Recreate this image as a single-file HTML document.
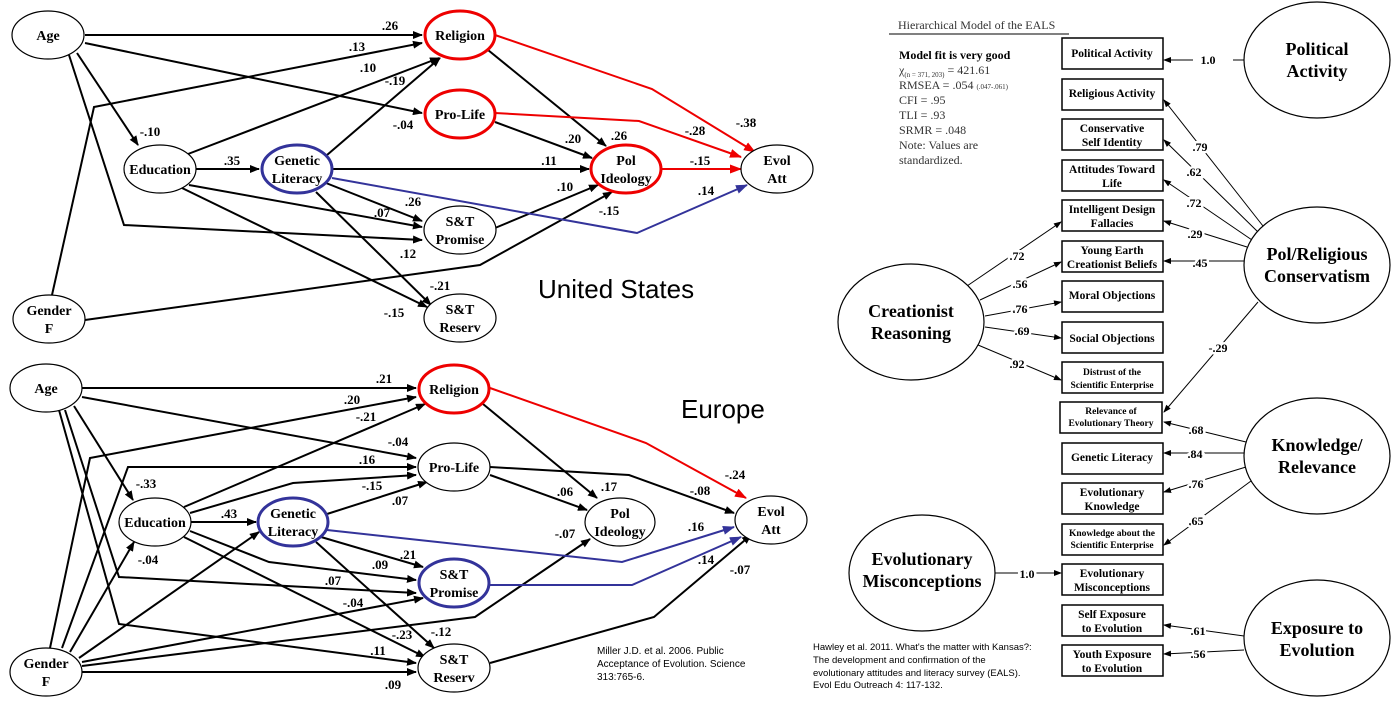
<!DOCTYPE html>
<html><head><meta charset="utf-8"><style>
html,body{margin:0;padding:0;background:#fff;}
svg{display:block;}
.n{font-family:"Liberation Serif",serif;font-weight:bold;font-size:14px;text-anchor:middle;}
.l{font-family:"Liberation Serif",serif;font-weight:bold;font-size:13px;text-anchor:middle;}
.b{font-family:"Liberation Serif",serif;font-weight:bold;font-size:11.5px;text-anchor:middle;}
.bs{font-family:"Liberation Serif",serif;font-weight:bold;font-size:9.5px;text-anchor:middle;}
.e{font-family:"Liberation Serif",serif;font-weight:bold;font-size:18px;text-anchor:middle;}
.rl{font-family:"Liberation Serif",serif;font-weight:bold;font-size:12px;text-anchor:middle;paint-order:stroke;stroke:#fff;stroke-width:5px;}
.k{stroke:#000;stroke-width:2;fill:none;}
.r{stroke:#e00;stroke-width:2;fill:none;}
.u{stroke:#33339a;stroke-width:2;fill:none;}
.t{stroke:#000;stroke-width:1;fill:none;}
</style></head><body>
<svg width="1394" height="701" viewBox="0 0 1394 701" xmlns="http://www.w3.org/2000/svg">
<defs>
<marker id="ak" markerWidth="10" markerHeight="8" refX="9" refY="4" orient="auto" markerUnits="userSpaceOnUse"><path d="M0,0 L10,4 L0,8 z" fill="#000"/></marker>
<marker id="ar" markerWidth="12" markerHeight="9" refX="11" refY="4.5" orient="auto" markerUnits="userSpaceOnUse"><path d="M0,0 L12,4.5 L0,9 z" fill="#e00"/></marker>
<marker id="au" markerWidth="12" markerHeight="9" refX="11" refY="4.5" orient="auto" markerUnits="userSpaceOnUse"><path d="M0,0 L12,4.5 L0,9 z" fill="#33339a"/></marker>
<marker id="as" markerWidth="8" markerHeight="6" refX="7" refY="3" orient="auto" markerUnits="userSpaceOnUse"><path d="M0,0 L8,3 L0,6 z" fill="#000"/></marker>
</defs>

<!-- ===== US ===== -->
<g>
<polyline class="k" points="85,35 422,35" marker-end="url(#ak)"/>
<polyline class="k" points="52,295 94,107 422,43" marker-end="url(#ak)"/>
<polyline class="k" points="85,43 422,113" marker-end="url(#ak)"/>
<polyline class="k" points="77,53 138,145" marker-end="url(#ak)"/>
<polyline class="k" points="69,55 124,225 422,240" marker-end="url(#ak)"/>
<polyline class="k" points="188,154 439,58" marker-end="url(#ak)"/>
<polyline class="k" points="195,169 259,169" marker-end="url(#ak)"/>
<polyline class="k" points="189,185 422,227" marker-end="url(#ak)"/>
<polyline class="k" points="182,188 427,307" marker-end="url(#ak)"/>
<polyline class="k" points="327,155 440,58" marker-end="url(#ak)"/>
<polyline class="k" points="332,169 589,169" marker-end="url(#ak)"/>
<polyline class="k" points="326,183 422,221" marker-end="url(#ak)"/>
<polyline class="k" points="316,192 431,305" marker-end="url(#ak)"/>
<polyline class="k" points="488,50 606,146" marker-end="url(#ak)"/>
<polyline class="k" points="495,122 592,158" marker-end="url(#ak)"/>
<polyline class="k" points="495,228 598,185" marker-end="url(#ak)"/>
<polyline class="k" points="85,320 480,265 612,192" marker-end="url(#ak)"/>
<polyline class="u" points="332,178 637,233 747,185" marker-end="url(#au)"/>
<polyline class="r" points="495,35 652,89 755,152" marker-end="url(#ar)"/>
<polyline class="r" points="495,113 639,121 741,157" marker-end="url(#ar)"/>
<polyline class="r" points="662,169 741,169" marker-end="url(#ar)"/>

<ellipse cx="48" cy="35" rx="36" ry="24" fill="#fff" stroke="#000" stroke-width="1.2"/>
<text class="n" x="48" y="40">Age</text>
<ellipse cx="49" cy="319" rx="36" ry="24" fill="#fff" stroke="#000" stroke-width="1.2"/>
<text class="n" x="49" y="315">Gender</text><text class="n" x="49" y="333">F</text>
<ellipse cx="160" cy="169" rx="36" ry="24" fill="#fff" stroke="#000" stroke-width="1.2"/>
<text class="n" x="160" y="174">Education</text>
<ellipse cx="297" cy="169" rx="35" ry="24" fill="#fff" stroke="#33339a" stroke-width="3"/>
<text class="n" x="297" y="165">Genetic</text><text class="n" x="297" y="183">Literacy</text>
<ellipse cx="460" cy="35" rx="35" ry="24" fill="#fff" stroke="#e00" stroke-width="3"/>
<text class="n" x="460" y="40">Religion</text>
<ellipse cx="460" cy="114" rx="35" ry="24" fill="#fff" stroke="#e00" stroke-width="3"/>
<text class="n" x="460" y="119">Pro-Life</text>
<ellipse cx="460" cy="230" rx="36" ry="24" fill="#fff" stroke="#000" stroke-width="1.2"/>
<text class="n" x="460" y="226">S&amp;T</text><text class="n" x="460" y="244">Promise</text>
<ellipse cx="460" cy="318" rx="36" ry="24" fill="#fff" stroke="#000" stroke-width="1.2"/>
<text class="n" x="460" y="314">S&amp;T</text><text class="n" x="460" y="332">Reserv</text>
<ellipse cx="626" cy="169" rx="35" ry="24" fill="#fff" stroke="#e00" stroke-width="3"/>
<text class="n" x="626" y="165">Pol</text><text class="n" x="626" y="183">Ideology</text>
<ellipse cx="777" cy="169" rx="36" ry="24" fill="#fff" stroke="#000" stroke-width="1.2"/>
<text class="n" x="777" y="165">Evol</text><text class="n" x="777" y="183">Att</text>

<text class="l" x="390" y="30">.26</text>
<text class="l" x="357" y="51">.13</text>
<text class="l" x="368" y="72">.10</text>
<text class="l" x="395" y="85">-.19</text>
<text class="l" x="403" y="129">-.04</text>
<text class="l" x="150" y="136">-.10</text>
<text class="l" x="232" y="165">.35</text>
<text class="l" x="382" y="217">.07</text>
<text class="l" x="413" y="206">.26</text>
<text class="l" x="408" y="258">.12</text>
<text class="l" x="440" y="290">-.21</text>
<text class="l" x="394" y="317">-.15</text>
<text class="l" x="573" y="143">.20</text>
<text class="l" x="619" y="140">.26</text>
<text class="l" x="549" y="165">.11</text>
<text class="l" x="565" y="191">.10</text>
<text class="l" x="609" y="215">-.15</text>
<text class="l" x="706" y="195">.14</text>
<text class="l" x="700" y="165">-.15</text>
<text class="l" x="695" y="135">-.28</text>
<text class="l" x="746" y="127">-.38</text>
<text x="538" y="298" style="font-family:'Liberation Sans',sans-serif;font-size:26px;">United States</text>
</g>

<!-- ===== Europe ===== -->
<g>
<polyline class="k" points="82,388 416,388" marker-end="url(#ak)"/>
<polyline class="k" points="50,648 90,458 416,397" marker-end="url(#ak)"/>
<polyline class="k" points="82,397 416,458" marker-end="url(#ak)"/>
<polyline class="k" points="74,406 133,500" marker-end="url(#ak)"/>
<polyline class="k" points="65,410 119,577 416,593" marker-end="url(#ak)"/>
<polyline class="k" points="59,410 119,624 416,663" marker-end="url(#ak)"/>
<polyline class="k" points="62,648 128,467 416,467" marker-end="url(#ak)"/>
<polyline class="k" points="70,652 134,542" marker-end="url(#ak)"/>
<polyline class="k" points="79,658 259,532" marker-end="url(#ak)"/>
<polyline class="k" points="82,662 423,598" marker-end="url(#ak)"/>
<polyline class="k" points="82,666 475,617 590,539" marker-end="url(#ak)"/>
<polyline class="k" points="82,672 416,672" marker-end="url(#ak)"/>
<polyline class="k" points="184,507 425,404" marker-end="url(#ak)"/>
<polyline class="k" points="190,513 293,483 416,475" marker-end="url(#ak)"/>
<polyline class="k" points="190,522 256,522" marker-end="url(#ak)"/>
<polyline class="k" points="190,531 269,562 416,580" marker-end="url(#ak)"/>
<polyline class="k" points="184,537 425,657" marker-end="url(#ak)"/>
<polyline class="k" points="327,514 427,482" marker-end="url(#ak)"/>
<polyline class="k" points="321,537 423,567" marker-end="url(#ak)"/>
<polyline class="k" points="316,542 434,648" marker-end="url(#ak)"/>
<polyline class="k" points="483,404 597,498" marker-end="url(#ak)"/>
<polyline class="k" points="490,475 587,510" marker-end="url(#ak)"/>
<polyline class="k" points="490,467 629,475 734,513" marker-end="url(#ak)"/>
<polyline class="k" points="490,663 654,617 751,535" marker-end="url(#ak)"/>
<polyline class="u" points="327,530 622,562 734,527" marker-end="url(#au)"/>
<polyline class="u" points="490,585 632,585 741,537" marker-end="url(#au)"/>
<polyline class="r" points="490,388 646,443 746,498" marker-end="url(#ar)"/>

<ellipse cx="46" cy="388" rx="36" ry="24" fill="#fff" stroke="#000" stroke-width="1.2"/>
<text class="n" x="46" y="393">Age</text>
<ellipse cx="46" cy="672" rx="36" ry="24" fill="#fff" stroke="#000" stroke-width="1.2"/>
<text class="n" x="46" y="668">Gender</text><text class="n" x="46" y="686">F</text>
<ellipse cx="155" cy="522" rx="36" ry="24" fill="#fff" stroke="#000" stroke-width="1.2"/>
<text class="n" x="155" y="527">Education</text>
<ellipse cx="293" cy="522" rx="35" ry="24" fill="#fff" stroke="#33339a" stroke-width="3"/>
<text class="n" x="293" y="518">Genetic</text><text class="n" x="293" y="536">Literacy</text>
<ellipse cx="454" cy="389" rx="35" ry="24" fill="#fff" stroke="#e00" stroke-width="3"/>
<text class="n" x="454" y="394">Religion</text>
<ellipse cx="454" cy="467" rx="36" ry="24" fill="#fff" stroke="#000" stroke-width="1.2"/>
<text class="n" x="454" y="472">Pro-Life</text>
<ellipse cx="454" cy="583" rx="35" ry="24" fill="#fff" stroke="#33339a" stroke-width="3"/>
<text class="n" x="454" y="579">S&amp;T</text><text class="n" x="454" y="597">Promise</text>
<ellipse cx="454" cy="668" rx="36" ry="24" fill="#fff" stroke="#000" stroke-width="1.2"/>
<text class="n" x="454" y="664">S&amp;T</text><text class="n" x="454" y="682">Reserv</text>
<ellipse cx="620" cy="522" rx="35" ry="24" fill="#fff" stroke="#000" stroke-width="1.2"/>
<text class="n" x="620" y="518">Pol</text><text class="n" x="620" y="536">Ideology</text>
<ellipse cx="771" cy="520" rx="36" ry="24" fill="#fff" stroke="#000" stroke-width="1.2"/>
<text class="n" x="771" y="516">Evol</text><text class="n" x="771" y="534">Att</text>

<text class="l" x="384" y="383">.21</text>
<text class="l" x="352" y="404">.20</text>
<text class="l" x="366" y="421">-.21</text>
<text class="l" x="398" y="446">-.04</text>
<text class="l" x="367" y="464">.16</text>
<text class="l" x="372" y="490">-.15</text>
<text class="l" x="400" y="505">.07</text>
<text class="l" x="146" y="488">-.33</text>
<text class="l" x="229" y="518">.43</text>
<text class="l" x="148" y="564">-.04</text>
<text class="l" x="408" y="559">.21</text>
<text class="l" x="380" y="569">.09</text>
<text class="l" x="333" y="585">.07</text>
<text class="l" x="353" y="607">-.04</text>
<text class="l" x="402" y="639">-.23</text>
<text class="l" x="441" y="636">-.12</text>
<text class="l" x="378" y="655">.11</text>
<text class="l" x="393" y="689">.09</text>
<text class="l" x="565" y="496">.06</text>
<text class="l" x="609" y="491">.17</text>
<text class="l" x="565" y="538">-.07</text>
<text class="l" x="700" y="495">-.08</text>
<text class="l" x="735" y="479">-.24</text>
<text class="l" x="696" y="531">.16</text>
<text class="l" x="706" y="564">.14</text>
<text class="l" x="740" y="574">-.07</text>
<text x="681" y="418" style="font-family:'Liberation Sans',sans-serif;font-size:26px;">Europe</text>
<g style="font-family:'Liberation Sans',sans-serif;font-size:10px;">
<text x="597" y="654">Miller J.D. et al. 2006. Public</text>
<text x="597" y="667">Acceptance of Evolution. Science</text>
<text x="597" y="680">313:765-6.</text>
</g>
</g>

<!-- ===== EALS ===== -->
<g>
<text x="898" y="29" style="font-family:'Liberation Serif',serif;font-size:12px;fill:#333;">Hierarchical Model of the EALS</text>
<line x1="889" y1="34" x2="1069" y2="34" stroke="#000" stroke-width="1"/>
<g style="font-family:'Liberation Serif',serif;font-size:12px;fill:#333;">
<text x="899" y="59" font-weight="bold" fill="#000">Model fit is very good</text>
<text x="899" y="74">χ<tspan font-size="7" dy="3">(n = 371, 203)</tspan><tspan dy="-3"> = 421.61</tspan></text>
<text x="899" y="89">RMSEA = .054 <tspan font-size="7">(.047-.061)</tspan></text>
<text x="899" y="104">CFI = .95</text>
<text x="899" y="119">TLI = .93</text>
<text x="899" y="134">SRMR = .048</text>
<text x="899" y="149">Note:  Values are</text>
<text x="899" y="164">standardized.</text>
</g>

<!-- connectors -->
<line class="t" x1="1244" y1="60" x2="1233" y2="60"/>
<line class="t" x1="1193" y1="60" x2="1164" y2="60" marker-end="url(#as)"/>
<line class="t" x1="1263" y1="226" x2="1164" y2="100" marker-end="url(#as)"/>
<line class="t" x1="1258" y1="232" x2="1164" y2="140" marker-end="url(#as)"/>
<line class="t" x1="1252" y1="240" x2="1164" y2="180" marker-end="url(#as)"/>
<line class="t" x1="1247" y1="247" x2="1164" y2="221" marker-end="url(#as)"/>
<line class="t" x1="1244" y1="261" x2="1164" y2="261" marker-end="url(#as)"/>
<line class="t" x1="1258" y1="302" x2="1164" y2="412" marker-end="url(#as)"/>
<line class="t" x1="967" y1="286" x2="1061" y2="222" marker-end="url(#as)"/>
<line class="t" x1="980" y1="300" x2="1061" y2="262" marker-end="url(#as)"/>
<line class="t" x1="985" y1="316" x2="1061" y2="302" marker-end="url(#as)"/>
<line class="t" x1="985" y1="327" x2="1061" y2="338" marker-end="url(#as)"/>
<line class="t" x1="978" y1="345" x2="1061" y2="380" marker-end="url(#as)"/>
<line class="t" x1="1246" y1="442" x2="1164" y2="422" marker-end="url(#as)"/>
<line class="t" x1="1244" y1="453" x2="1164" y2="453" marker-end="url(#as)"/>
<line class="t" x1="1246" y1="467" x2="1164" y2="492" marker-end="url(#as)"/>
<line class="t" x1="1251" y1="481" x2="1164" y2="545" marker-end="url(#as)"/>
<line class="t" x1="995" y1="573" x2="1061" y2="573" marker-end="url(#as)"/>
<line class="t" x1="1244" y1="636" x2="1164" y2="625" marker-end="url(#as)"/>
<line class="t" x1="1244" y1="650" x2="1164" y2="654" marker-end="url(#as)"/>

<text class="rl" x="1208" y="64">1.0</text>
<text class="rl" x="1200" y="151">.79</text>
<text class="rl" x="1194" y="176">.62</text>
<text class="rl" x="1194" y="207">.72</text>
<text class="rl" x="1195" y="238">.29</text>
<text class="rl" x="1200" y="267">.45</text>
<text class="rl" x="1218" y="352">-.29</text>
<text class="rl" x="1017" y="260">.72</text>
<text class="rl" x="1020" y="288">.56</text>
<text class="rl" x="1020" y="313">.76</text>
<text class="rl" x="1022" y="335">.69</text>
<text class="rl" x="1017" y="368">.92</text>
<text class="rl" x="1196" y="434">.68</text>
<text class="rl" x="1195" y="458">.84</text>
<text class="rl" x="1196" y="488">.76</text>
<text class="rl" x="1196" y="525">.65</text>
<text class="rl" x="1027" y="578">1.0</text>
<text class="rl" x="1198" y="635">.61</text>
<text class="rl" x="1198" y="658">.56</text>

<!-- boxes -->
<g fill="#fff" stroke="#000" stroke-width="1.5">
<rect x="1062" y="38" width="101" height="31"/>
<rect x="1062" y="79" width="101" height="31"/>
<rect x="1062" y="119" width="101" height="31"/>
<rect x="1062" y="160" width="101" height="31"/>
<rect x="1062" y="200" width="101" height="31"/>
<rect x="1062" y="241" width="101" height="31"/>
<rect x="1062" y="281" width="101" height="31"/>
<rect x="1062" y="322" width="101" height="31"/>
<rect x="1062" y="362" width="101" height="31"/>
<rect x="1060" y="402" width="102" height="31"/>
<rect x="1062" y="443" width="101" height="31"/>
<rect x="1062" y="483" width="101" height="31"/>
<rect x="1062" y="524" width="101" height="31"/>
<rect x="1062" y="564" width="101" height="31"/>
<rect x="1062" y="605" width="101" height="31"/>
<rect x="1062" y="645" width="101" height="31"/>
</g>
<text class="b" x="1112" y="57">Political Activity</text>
<text class="b" x="1112" y="97">Religious Activity</text>
<text class="b" x="1112" y="132">Conservative</text><text class="b" x="1112" y="146">Self Identity</text>
<text class="b" x="1112" y="173">Attitudes Toward</text><text class="b" x="1112" y="187">Life</text>
<text class="b" x="1112" y="213">Intelligent Design</text><text class="b" x="1112" y="227">Fallacies</text>
<text class="b" x="1112" y="254">Young Earth</text><text class="b" x="1112" y="268">Creationist Beliefs</text>
<text class="b" x="1112" y="299">Moral Objections</text>
<text class="b" x="1112" y="342">Social Objections</text>
<text class="bs" x="1112" y="375">Distrust of the</text><text class="bs" x="1112" y="388">Scientific Enterprise</text>
<text class="bs" x="1111" y="414">Relevance of</text><text class="bs" x="1111" y="426">Evolutionary Theory</text>
<text class="b" x="1112" y="461">Genetic Literacy</text>
<text class="b" x="1112" y="496">Evolutionary</text><text class="b" x="1112" y="510">Knowledge</text>
<text class="bs" x="1112" y="536">Knowledge about the</text><text class="bs" x="1112" y="548">Scientific Enterprise</text>
<text class="b" x="1112" y="577">Evolutionary</text><text class="b" x="1112" y="591">Misconceptions</text>
<text class="b" x="1112" y="618">Self Exposure</text><text class="b" x="1112" y="632">to Evolution</text>
<text class="b" x="1112" y="658">Youth Exposure</text><text class="b" x="1112" y="672">to Evolution</text>

<!-- ellipses -->
<g fill="#fff" stroke="#000" stroke-width="1.2">
<ellipse cx="1317" cy="60" rx="73" ry="58"/>
<ellipse cx="1317" cy="265" rx="73" ry="58"/>
<ellipse cx="1317" cy="456" rx="73" ry="58"/>
<ellipse cx="1317" cy="638" rx="73" ry="58"/>
<ellipse cx="911" cy="322" rx="73" ry="58"/>
<ellipse cx="922" cy="573" rx="73" ry="58"/>
</g>
<text class="e" x="1317" y="55">Political</text><text class="e" x="1317" y="77">Activity</text>
<text class="e" x="1317" y="260">Pol/Religious</text><text class="e" x="1317" y="282">Conservatism</text>
<text class="e" x="1317" y="451">Knowledge/</text><text class="e" x="1317" y="473">Relevance</text>
<text class="e" x="1317" y="634">Exposure to</text><text class="e" x="1317" y="656">Evolution</text>
<text class="e" x="911" y="317">Creationist</text><text class="e" x="911" y="339">Reasoning</text>
<text class="e" x="922" y="565">Evolutionary</text><text class="e" x="922" y="587">Misconceptions</text>

<g style="font-family:'Liberation Sans',sans-serif;font-size:9.5px;">
<text x="813" y="650">Hawley et al. 2011. What's the matter with Kansas?:</text>
<text x="813" y="663">The development and confirmation of the</text>
<text x="813" y="676">evolutionary  attitudes and literacy survey (EALS).</text>
<text x="813" y="688">Evol Edu Outreach 4: 117-132.</text>
</g>
</g>
</svg>
</body></html>
